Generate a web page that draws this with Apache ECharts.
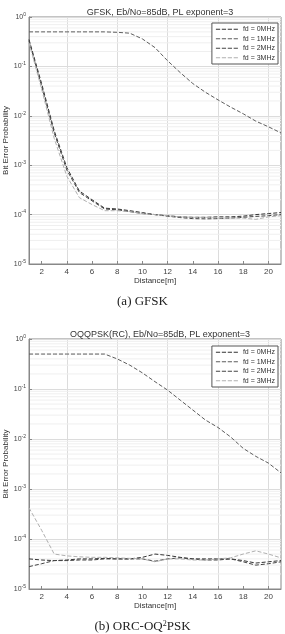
<!DOCTYPE html>
<html><head><meta charset="utf-8">
<script src="https://cdn.jsdelivr.net/npm/echarts@6/dist/echarts.min.js"></script>
<style>html,body{margin:0;padding:0;background:#fff}#c{width:285px;height:634px}</style>
</head><body><div id="c"></div>
<script>
const distance = [1,2,3,4,5,6,7,8,9,10,11,12,13,14,15,16,17,18,19,20,21];
const seriesNames = ['fd = 0MHz','fd = 1MHz','fd = 2MHz','fd = 3MHz'];
const xTicks = [2,4,6,8,10,12,14,16,18,20];
const decades = [1e-5,1e-4,1e-3,1e-2,1e-1];
const mults = [2,3,4,5,6,7,8,9];

// (a) GFSK
const gfsk0 = [0.35,0.045,0.005,0.0009,0.0003,0.0002,0.000135,0.00013,0.00012,0.00011,0.0001,0.000095,0.00009,0.000088,0.000088,0.00009,0.00009,0.000093,0.0001,0.000105,0.00011];
const gfsk1 = [0.5,0.5,0.5,0.5,0.5,0.5,0.5,0.49,0.47,0.36,0.24,0.13,0.075,0.045,0.03,0.021,0.015,0.011,0.0078,0.006,0.0045];
const gfsk2 = [0.33,0.04,0.0045,0.0008,0.00028,0.00019,0.00013,0.000125,0.000115,0.000105,0.0001,0.000093,0.000087,0.000083,0.000082,0.000083,0.000085,0.000088,0.000092,0.000095,0.0001];
const gfsk3 = [0.3,0.035,0.0035,0.0006,0.00022,0.00016,0.00012,0.00012,0.000115,0.000105,0.0001,0.000095,0.00009,0.000088,0.000088,0.000085,0.000085,0.000085,0.00008,0.00009,0.000095];
// (b) ORC-OQ2PSK
const oq0 = [0.00004,0.000038,0.000037,0.000038,0.00004,0.00004,0.000041,0.00004,0.00004,0.000043,0.00005,0.000047,0.000043,0.00004,0.00004,0.00004,0.00004,0.000037,0.000033,0.000035,0.000037];
const oq1 = [0.5,0.5,0.5,0.5,0.5,0.5,0.5,0.4,0.3,0.21,0.14,0.095,0.06,0.038,0.024,0.017,0.011,0.0065,0.0045,0.0033,0.0021];
const oq2 = [0.000028,0.000032,0.000037,0.000037,0.000038,0.000038,0.00004,0.00004,0.00004,0.00004,0.000036,0.00004,0.000042,0.00004,0.000038,0.000038,0.00004,0.000035,0.00003,0.000032,0.000035];
const oq3 = [0.00042,0.00015,0.00005,0.000046,0.000044,0.000043,0.000043,0.000042,0.000041,0.00004,0.000035,0.00004,0.00004,0.000038,0.000038,0.00004,0.000042,0.00005,0.000058,0.00005,0.000042];

const colors = ['#333333','#5e5e5e','#444444','#b0b0b0'];
const FONT = '"Liberation Sans", Arial, sans-serif';
const DASH_ICON = 'path://M0,0h5v1H0z M7,0h5v1H7z M14,0h5v1H14z M21,0h5v1H21z';
const minorVals = [];
decades.forEach(d => mults.forEach(m => minorVals.push(m * d)));

const chart = echarts.init(document.getElementById('c'), null, {renderer:'canvas'});

function xAxisDef(gi){
  return {
    gridIndex: gi, type:'value', min:1, max:21, interval:1,
    name:'Distance[m]', nameLocation:'middle', nameGap:13, nameMoveOverlap:false,
    nameTextStyle:{fontSize:8, color:'#333', fontFamily:FONT},
    axisLine:{show:true, lineStyle:{color:'#888', width:1}},
    axisTick:{show:true, inside:true, length:3, customValues:xTicks, lineStyle:{color:'#888'}},
    axisLabel:{fontSize:8, color:'#444', margin:4, fontFamily:FONT, customValues:xTicks, formatter: v => String(v)},
    splitLine:{show:true, lineStyle:{color:['rgba(0,0,0,0)','#dcdcdc'], width:1}}
  };
}
function yAxisDef(gi){
  return {
    gridIndex: gi, type:'log', logBase:10, min:1e-5, max:1,
    name:'Bit Error Probability', nameLocation:'middle', nameGap:19, nameMoveOverlap:false,
    nameTextStyle:{fontSize:8, color:'#333', fontFamily:FONT},
    axisLine:{show:true, lineStyle:{color:'#888', width:1}},
    axisTick:{show:true, inside:true, length:3, lineStyle:{color:'#888'}},
    axisLabel:{margin:3, fontFamily:FONT, color:'#444',
      formatter: v => '{b|10}{s|' + Math.round(Math.log10(v)) + '}',
      rich:{ b:{fontSize:7, color:'#444', fontFamily:FONT}, s:{fontSize:5, color:'#444', fontFamily:FONT, padding:[0,0,5,0]} }
    },
    splitLine:{show:true, lineStyle:{color:'#dcdcdc', width:1}}
  };
}
function minorSeries(gi){
  return {
    type:'custom', xAxisIndex:gi, yAxisIndex:gi, silent:true, z:0,
    data: minorVals.map(v => [1, v]),
    encode:{x:0, y:1},
    renderItem:(params, api) => {
      const v = api.value(1);
      const p1 = api.coord([1, v]);
      const p2 = api.coord([21, v]);
      return {type:'line', shape:{x1:p1[0], y1:p1[1], x2:p2[0], y2:p2[1]}, style:{stroke:'#efefef', lineWidth:1}};
    }
  };
}
function lineSeries(gi, arrs){
  return arrs.map((arr, i) => ({
    name: seriesNames[i], type:'line', xAxisIndex:gi, yAxisIndex:gi,
    data: distance.map((d, k) => [d, arr[k]]),
    symbol:'none', smooth:false, z:3,
    lineStyle:{color:colors[i], width:1, type:[4,2]},
    itemStyle:{color:colors[i]}
  }));
}
function legendDef(top){
  return {
    data: seriesNames.map(n => ({name:n, icon:DASH_ICON})),
    orient:'vertical', right:7, top:top,
    backgroundColor:'#fff', borderColor:'#555', borderWidth:1,
    padding:[2,3,2,4], itemGap:1, itemWidth:22, itemHeight:1,
    textStyle:{fontSize:7, color:'#333', fontFamily:FONT, lineHeight:8.5}
  };
}

chart.setOption({
  animation:false,
  backgroundColor:'#fff',
  title:[
    {text:'GFSK, Eb/No=85dB, PL exponent=3', left:155, top:3, textAlign:'center',
     textStyle:{fontSize:9, fontWeight:'normal', color:'#333', fontFamily:FONT}},
    {text:'OQQPSK(RC), Eb/No=85dB, PL exponent=3', left:155, top:325, textAlign:'center',
     textStyle:{fontSize:9, fontWeight:'normal', color:'#333', fontFamily:FONT}}
  ],
  legend:[ legendDef(23), legendDef(346) ],
  grid:[
    {left:29, top:17, width:252, height:247, show:true, borderColor:'#888', borderWidth:1, backgroundColor:'#fff', containLabel:false, outerBoundsMode:'none'},
    {left:29, top:339, width:252, height:250, show:true, borderColor:'#888', borderWidth:1, backgroundColor:'#fff', containLabel:false, outerBoundsMode:'none'}
  ],
  xAxis:[xAxisDef(0), xAxisDef(1)],
  yAxis:[yAxisDef(0), yAxisDef(1)],
  series:[
    minorSeries(0), minorSeries(1),
    ...lineSeries(0, [gfsk0, gfsk1, gfsk2, gfsk3]),
    ...lineSeries(1, [oq0, oq1, oq2, oq3])
  ],
  graphic:[
    {type:'text', left:'center', top:295, style:{text:'(a) GFSK', fontSize:13, fill:'#222', fontFamily:'"Liberation Serif", "DejaVu Serif", serif'}},
    {type:'text', left:'center', top:620, style:{text:'(b) ORC-OQ{s|2}PSK', fontSize:13, fill:'#222', fontFamily:'"Liberation Serif", "DejaVu Serif", serif',
      rich:{s:{fontSize:8, fill:'#222', fontFamily:'"Liberation Serif", serif', padding:[0,0,6,0]}}}}
  ]
});
</script></body></html>
